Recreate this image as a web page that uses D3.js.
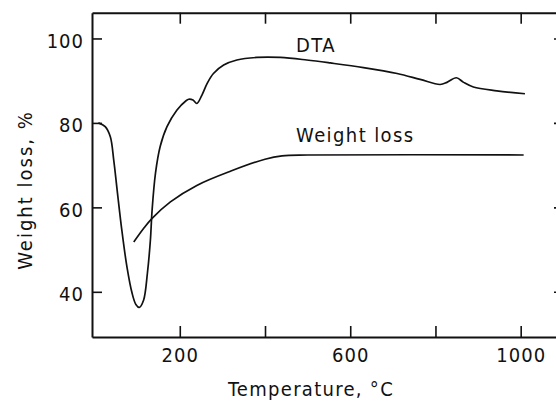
<!DOCTYPE html>
<html>
<head>
<meta charset="utf-8">
<script src="https://cdn.jsdelivr.net/npm/d3@7"></script>
<style>
  body { margin: 0; background: #fff; }
  svg text { font-family: "DejaVu Sans Condensed", "DejaVu Sans", sans-serif; font-stretch: condensed; fill: #111; }
</style>
</head>
<body>
<div id="chart"></div>
<script>
// DTA trace (temperature, value)
const dtaTemp = [9, 25, 37, 45, 53, 64, 76, 88, 97, 105, 115, 124, 131, 135, 143, 154, 170, 193, 214, 221, 231, 240,
  252, 264, 279, 303, 334, 381, 436, 498, 553, 631, 710, 764, 811, 827, 849, 866, 889, 944, 1010];
const dtaVal = [80.0, 79.1, 76.7, 71.2, 64.1, 54.6, 45.9, 39.7, 37.0, 36.3, 38.0, 44.4, 52.2, 59.3, 68.1, 74.4, 79.1, 83.0, 85.2, 85.6, 85.4, 84.6,
  86.6, 89.3, 91.7, 93.7, 94.9, 95.5, 95.5, 94.9, 94.2, 93.1, 91.7, 90.3, 89.1, 89.6, 90.7, 89.6, 88.5, 87.6, 86.9];

// weight loss trace
const lossTemp = [92, 115, 135, 178, 240, 320, 400, 440, 500, 1007];
const lossVal = [51.8, 55.0, 57.4, 61.3, 65.2, 68.6, 71.4, 72.2, 72.4, 72.4];

const xTicks = [200, 400, 600, 800, 1000];
const xLabels = [200, 600, 1000];
const yTicks = [40, 60, 80, 100];

const curveLabels = [
  { text: "DTA", t: 473, v: 96.7 },
  { text: "Weight loss", t: 473, v: 75.5 }
];

const width = 556, height = 402;
const plotL = 92, plotR = 565, plotT = 12.7, plotB = 337;

const svg = d3.select('#chart').append('svg')
  .attr('width', width)
  .attr('height', height);

const x = d3.scaleLinear().domain([-6, 1104]).range([plotL, plotR]);
const y = d3.scaleLinear().domain([29.3, 106.1]).range([plotB, plotT]);

// frame with inward ticks on every side
const axStyle = g => {
  g.select('.domain').attr('stroke', '#111').attr('stroke-width', 2);
  g.selectAll('.tick line').attr('stroke', '#111').attr('stroke-width', 1.6);
  g.selectAll('.tick text').style('font-size', '20px').style('letter-spacing', '1px');
};

svg.append('g')
  .attr('transform', `translate(0,${plotB})`)
  .call(d3.axisBottom(x).tickValues(xTicks).tickSizeInner(-11).tickSizeOuter(0)
    .tickFormat(d => xLabels.includes(d) ? d : ''))
  .call(axStyle)
  .call(g => g.selectAll('.tick text').attr('dy', 0).attr('y', 25));

svg.append('g')
  .attr('transform', `translate(0,${plotT})`)
  .call(d3.axisTop(x).tickValues(xTicks).tickSizeInner(-11).tickSizeOuter(0).tickFormat(''))
  .call(axStyle);

svg.append('g')
  .attr('transform', `translate(${plotL},0)`)
  .call(d3.axisLeft(y).tickValues(yTicks).tickSizeInner(-10).tickSizeOuter(0))
  .call(axStyle)
  .call(g => g.selectAll('.tick text').attr('x', -8).attr('dy', '0.45em'));

svg.append('g')
  .attr('transform', `translate(${plotR},0)`)
  .call(d3.axisRight(y).tickValues(yTicks).tickSizeInner(-11).tickSizeOuter(0).tickFormat(''))
  .call(axStyle);

// curves
const line = d3.line()
  .x(d => x(d[0]))
  .y(d => y(d[1]))
  .curve(d3.curveCatmullRom.alpha(0.5));

svg.append('path')
  .datum(d3.zip(dtaTemp, dtaVal))
  .attr('d', line)
  .attr('fill', 'none')
  .attr('stroke', '#111')
  .attr('stroke-width', 1.7);

svg.append('path')
  .datum(d3.zip(lossTemp, lossVal))
  .attr('d', line)
  .attr('fill', 'none')
  .attr('stroke', '#111')
  .attr('stroke-width', 1.7);

svg.selectAll('.curve-label')
  .data(curveLabels)
  .enter().append('text')
  .attr('x', d => x(d.t))
  .attr('y', d => y(d.v))
  .style('font-size', '20px')
  .style('letter-spacing', '1.4px')
  .text(d => d.text);

// axis titles
svg.append('text')
  .attr('x', 311)
  .attr('y', 396)
  .attr('text-anchor', 'middle')
  .style('font-size', '20px')
  .style('letter-spacing', '1.3px')
  .text('Temperature, °C');

svg.append('text')
  .attr('transform', 'translate(31.5,190) rotate(-90)')
  .attr('text-anchor', 'middle')
  .style('font-size', '20px')
  .style('letter-spacing', '2px')
  .text('Weight loss, %');
</script>
</body>
</html>
